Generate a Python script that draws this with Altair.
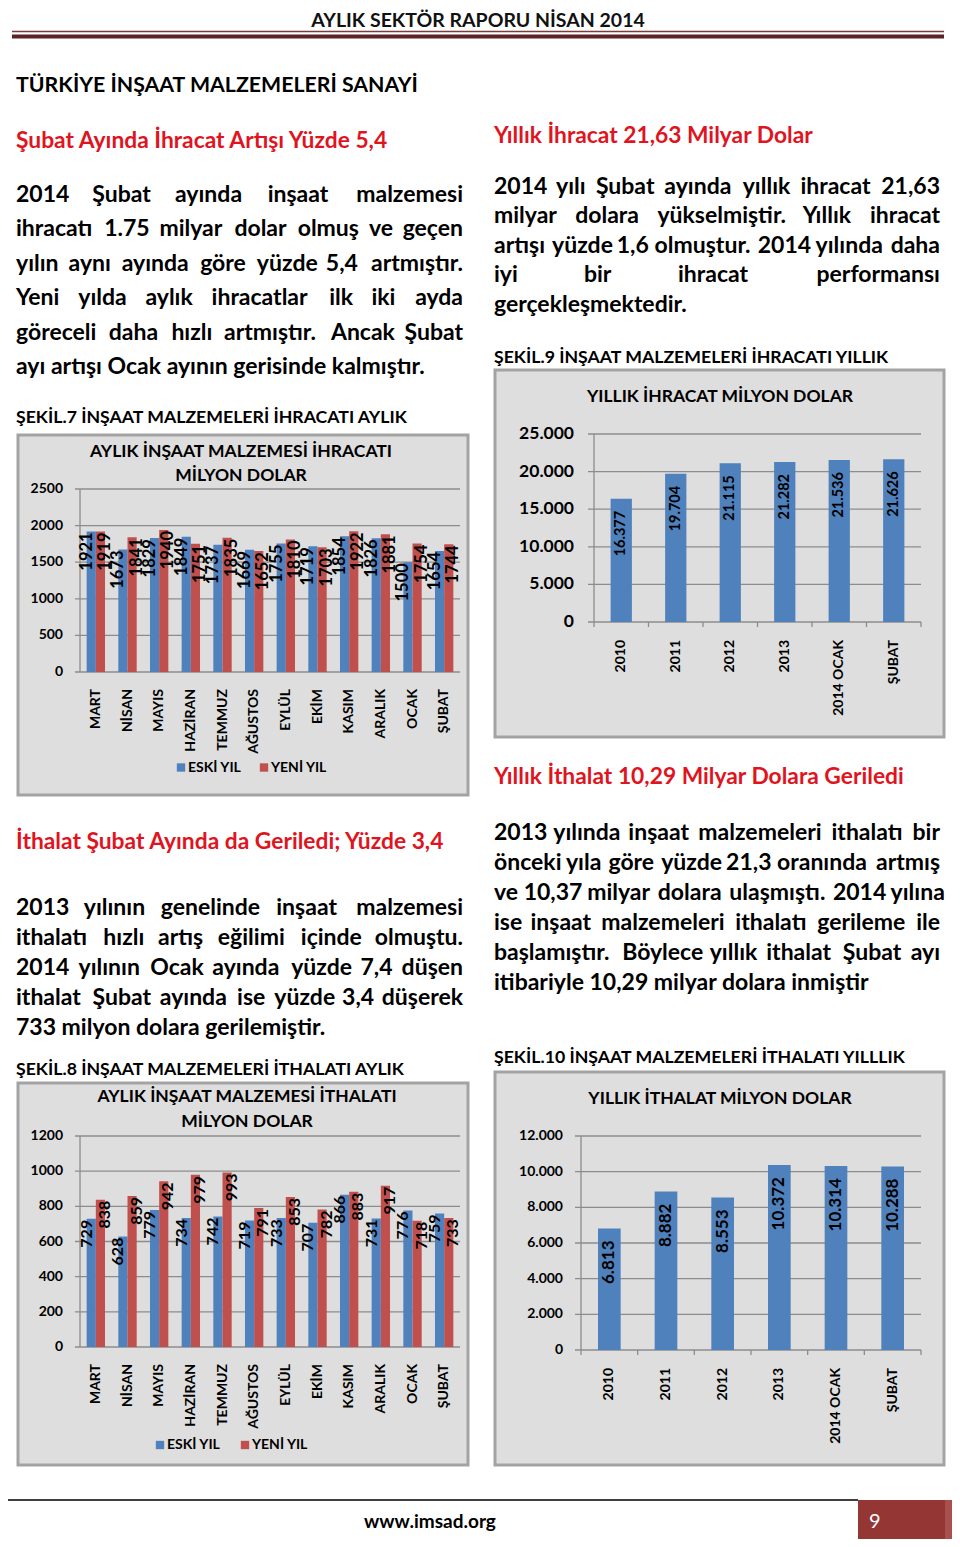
import altair as alt
import pandas as pd

# ---------------- data ----------------
months = ["MART", "NİSAN", "MAYIS", "HAZİRAN", "TEMMUZ", "AĞUSTOS", "EYLÜL",
          "EKİM", "KASIM", "ARALIK", "OCAK", "ŞUBAT"]
series = ["ESKİ YIL", "YENİ YIL"]
export_old = [1921, 1673, 1829, 1849, 1737, 1669, 1755, 1719, 1854, 1826, 1500, 1654]
export_new = [1919, 1841, 1940, 1751, 1835, 1652, 1810, 1703, 1922, 1881, 1754, 1744]
import_old = [729, 628, 779, 734, 742, 719, 733, 707, 866, 731, 776, 759]
import_new = [838, 859, 942, 979, 993, 791, 853, 782, 883, 917, 718, 733]

years = ["2010", "2011", "2012", "2013", "2014 OCAK", "ŞUBAT"]
export_yearly = [16377, 19704, 21115, 21282, 21536, 21626]
import_yearly = [6813, 8882, 8553, 10372, 10314, 10288]

ticks_exp_m = [0, 500, 1000, 1500, 2000, 2500]
ticks_imp_m = [0, 200, 400, 600, 800, 1000, 1200]
ticks_exp_y = [0, 5000, 10000, 15000, 20000, 25000]
ticks_imp_y = [0, 2000, 4000, 6000, 8000, 10000, 12000]

# ---------------- texts ----------------
header = "AYLIK SEKTÖR RAPORU NİSAN 2014"
section = "TÜRKİYE İNŞAAT MALZEMELERİ SANAYİ"
head1 = "Şubat Ayında İhracat Artışı Yüzde 5,4"
para1 = ["2014 Şubat ayında inşaat malzemesi",
         "ihracatı 1.75 milyar dolar olmuş ve geçen",
         "yılın aynı ayında göre yüzde 5,4 artmıştır.",
         "Yeni yılda aylık ihracatlar ilk iki ayda",
         "göreceli daha hızlı artmıştır. Ancak Şubat",
         "ayı artışı Ocak ayının gerisinde kalmıştır."]
fig7 = "ŞEKİL.7 İNŞAAT MALZEMELERİ İHRACATI AYLIK"
fig7_title = ["AYLIK İNŞAAT MALZEMESİ İHRACATI", "MİLYON DOLAR"]
head2 = "Yıllık İhracat 21,63 Milyar Dolar"
para2 = ["2014 yılı Şubat ayında yıllık ihracat 21,63",
         "milyar dolara yükselmiştir. Yıllık ihracat",
         "artışı yüzde 1,6 olmuştur. 2014 yılında daha",
         "iyi bir ihracat performansı",
         "gerçekleşmektedir."]
fig9 = "ŞEKİL.9 İNŞAAT MALZEMELERİ İHRACATI YILLIK"
fig9_title = "YILLIK İHRACAT MİLYON DOLAR"
head3 = "Yıllık İthalat 10,29 Milyar Dolara Geriledi"
head4 = "İthalat Şubat Ayında da Geriledi; Yüzde 3,4"
para4 = ["2013 yılının genelinde inşaat malzemesi",
         "ithalatı hızlı artış eğilimi içinde olmuştu.",
         "2014 yılının Ocak ayında yüzde 7,4 düşen",
         "ithalat Şubat ayında ise yüzde 3,4 düşerek",
         "733 milyon dolara gerilemiştir."]
fig8 = "ŞEKİL.8 İNŞAAT MALZEMELERİ İTHALATI AYLIK"
fig8_title = ["AYLIK  İNŞAAT MALZEMESİ İTHALATI", "MİLYON DOLAR"]
para3 = ["2013 yılında inşaat malzemeleri ithalatı bir",
         "önceki yıla göre yüzde 21,3 oranında artmış",
         "ve 10,37 milyar dolara ulaşmıştı. 2014 yılına",
         "ise inşaat malzemeleri ithalatı gerileme ile",
         "başlamıştır. Böylece yıllık ithalat Şubat ayı",
         "itibariyle 10,29 milyar dolara inmiştir"]
fig10 = "ŞEKİL.10 İNŞAAT MALZEMELERİ İTHALATI YILLLIK"
fig10_title = "YILLIK İTHALAT MİLYON DOLAR"
footer_url = "www.imsad.org"
page_no = "9"

# ---------------- style ----------------
FONT = "Lato"
BLUE = "#4F81BD"
RED = "#C0504D"
HEAD_RED = "#E0141E"
BOX_FILL = "#DEDEDE"
BOX_STROKE = "#A3A3A3"
GRID = "#8C8C8C"
BODY = 23


def px(x):
    return x - 8


def py(y):
    return y - 8


# rough glyph widths (em) used only to spread words of justified lines
CW = {c: 0.52 for c in "abdghnopquüöğ"}
CW.update({"c": 0.42, "ç": 0.42, "e": 0.5, "f": 0.32, "i": 0.25, "ı": 0.25, "j": 0.26,
           "k": 0.48, "l": 0.25, "m": 0.81, "r": 0.36, "s": 0.4, "ş": 0.4, "t": 0.35,
           "v": 0.47, "w": 0.74, "y": 0.46, "z": 0.4, ".": 0.25, ",": 0.24, ";": 0.28})
for d in "0123456789":
    CW[d] = 0.53
CW.update({"A": 0.61, "B": 0.56, "C": 0.53, "Ş": 0.47, "S": 0.47, "Y": 0.53, "İ": 0.27,
           "I": 0.27, "Ö": 0.68, "O": 0.68, "E": 0.49})
LATO_K = 1.06
MIN_GAP = 6.0


def est_w(s, size):
    return sum(CW.get(c, 0.5) for c in s) * size * LATO_K


def text_layer(rows, size, color="#000000", align="left", weight="bold", angle=0):
    df = pd.DataFrame(rows, columns=["t", "x", "y"])
    return alt.Chart(df).mark_text(
        font=FONT, fontSize=size, fontWeight=weight, color=color, align=align,
        baseline="middle", angle=angle
    ).encode(
        x=alt.X("x:Q", scale=None, axis=None),
        y=alt.Y("y:Q", scale=None, axis=None),
        text="t:N",
    )


def paragraph(lines, x0, x1, y0, dy, size):
    left, right = [], []
    for i, line in enumerate(lines):
        y = py(y0 + i * dy)
        words = line.split()
        if i == len(lines) - 1 or len(words) < 2:
            left.append((line, px(x0), y))
            continue
        widths = [est_w(w, size) for w in words]
        gap = (x1 - x0 - sum(widths)) / (len(words) - 1)
        anchor_right = gap >= MIN_GAP
        gap = max(gap, MIN_GAP)
        x = x0
        for j, (w, wd) in enumerate(zip(words, widths)):
            if j == len(words) - 1 and anchor_right:
                right.append((w, px(x1), y))
            else:
                left.append((w, px(x), y))
            x += wd + gap
    return [text_layer(left, size, align="left"), text_layer(right, size, align="right")]


one = pd.DataFrame({"k": [0]})


def rect(x0, y0, x1, y1, fill, stroke=None, sw=0):
    kw = dict(fill=fill)
    if stroke:
        kw.update(stroke=stroke, strokeWidth=sw)
    return alt.Chart(one).mark_rect(**kw).encode(
        x=alt.value(px(x0)), x2=alt.value(px(x1)), y=alt.value(py(y0)), y2=alt.value(py(y1)))


def hline(x0, x1, y, color, sw):
    return alt.Chart(one).mark_rule(color=color, strokeWidth=sw).encode(
        x=alt.value(px(x0)), x2=alt.value(px(x1)), y=alt.value(py(y)))


def vline(x, y0, y1, color, sw):
    return alt.Chart(one).mark_rule(color=color, strokeWidth=sw).encode(
        x=alt.value(px(x)), y=alt.value(py(y0)), y2=alt.value(py(y1)))


def dotted_label():
    return "replace(format(datum.v, ','), ',', '.')"


def monthly_chart(old, new, ticks, y_bottom, y_top, x0, x1, xlab_y, lab_size,
                  ylab_x, legend_y, legend_x):
    df = pd.DataFrame({"month": months + months,
                       "series": [series[0]] * 12 + [series[1]] * 12,
                       "value": old + new})
    xs = alt.Scale(domain=months, range=[px(x0), px(x1)], paddingInner=0.42, paddingOuter=0.21)
    ys = alt.Scale(domain=[ticks[0], ticks[-1]], range=[py(y_bottom), py(y_top)], nice=False)
    os_ = alt.Scale(domain=series, paddingInner=0, paddingOuter=0)
    cs = alt.Scale(domain=series, range=[BLUE, RED])
    enc = dict(x=alt.X("month:N", scale=xs, axis=None, sort=months),
               xOffset=alt.XOffset("series:N", scale=os_, sort=series),
               y=alt.Y("value:Q", scale=ys, axis=None))
    tdf = pd.DataFrame({"t": ticks})
    grid = alt.Chart(tdf).mark_rule(color=GRID, strokeWidth=1.3).encode(
        y=alt.Y("t:Q", scale=ys, axis=None), x=alt.value(px(x0 - 5)), x2=alt.value(px(x1)))
    ylabels = alt.Chart(tdf).mark_text(
        font=FONT, fontSize=14, fontWeight="bold", align="right", baseline="middle", color="#000"
    ).encode(y=alt.Y("t:Q", scale=ys, axis=None), x=alt.value(px(ylab_x)),
             text=alt.Text("t:Q", format="d"))
    axis = vline(x0, y_top, y_bottom, GRID, 1.3)
    bars = alt.Chart(df).mark_bar().encode(
        color=alt.Color("series:N", scale=cs, legend=None), **enc)
    labels = alt.Chart(df).mark_text(
        font=FONT, fontSize=lab_size, fontWeight="bold", angle=270, align="right",
        baseline="middle", color="#000", dx=-1
    ).encode(text=alt.Text("value:Q", format="d"), **enc)
    mdf = pd.DataFrame({"month": months})
    xlabels = alt.Chart(mdf).mark_text(
        font=FONT, fontSize=14, fontWeight="bold", angle=270, align="right",
        baseline="middle", color="#000"
    ).encode(x=alt.X("month:N", scale=xs, axis=None, sort=months),
             y=alt.value(py(xlab_y)), text="month:N")
    ldf = pd.DataFrame({"series": series})
    lx = alt.Scale(type="point", domain=series, range=[px(legend_x[0]), px(legend_x[1])],
                   padding=0)
    lsq = alt.Chart(ldf).mark_square(size=70, opacity=1).encode(
        x=alt.X("series:N", scale=lx, axis=None, sort=series), y=alt.value(py(legend_y)),
        color=alt.Color("series:N", scale=cs, legend=None))
    ltx = alt.Chart(ldf).mark_text(
        font=FONT, fontSize=14, fontWeight="bold", align="left", baseline="middle",
        color="#000", dx=7
    ).encode(x=alt.X("series:N", scale=lx, axis=None, sort=series), y=alt.value(py(legend_y)),
             text="series:N")
    return [grid, axis, bars, labels, ylabels, xlabels, lsq, ltx]


def yearly_chart(vals, ticks, y_bottom, y_top, x0, x1, pad, xlab_y, lab_size,
                 ylab_x, ylab_size):
    df = pd.DataFrame({"year": years, "v": vals})
    xs = alt.Scale(domain=years, range=[px(x0), px(x1)], paddingInner=pad, paddingOuter=pad / 2)
    xb = alt.Scale(domain=years, range=[px(x0), px(x1)], paddingInner=0, paddingOuter=0)
    ys = alt.Scale(domain=[ticks[0], ticks[-1]], range=[py(y_bottom), py(y_top)], nice=False)
    tdf = pd.DataFrame({"v": ticks})
    grid = alt.Chart(tdf).mark_rule(color=GRID, strokeWidth=1.3).encode(
        y=alt.Y("v:Q", scale=ys, axis=None), x=alt.value(px(x0 - 6)), x2=alt.value(px(x1)))
    ylabels = alt.Chart(tdf).transform_calculate(lab=dotted_label()).mark_text(
        font=FONT, fontSize=ylab_size, fontWeight="bold", align="right", baseline="middle",
        color="#000"
    ).encode(y=alt.Y("v:Q", scale=ys, axis=None), x=alt.value(px(ylab_x)), text="lab:N")
    axis = vline(x0, y_top, y_bottom, GRID, 1.3)
    xticks = alt.Chart(df).mark_rule(color=GRID, strokeWidth=1.3).encode(
        x=alt.X("year:N", scale=xb, axis=None, sort=years, bandPosition=0),
        y=alt.value(py(y_bottom)), y2=alt.value(py(y_bottom + 5)))
    last_tick = vline(x1, y_bottom, y_bottom + 5, GRID, 1.3)
    bars = alt.Chart(df).mark_bar(color=BLUE).encode(
        x=alt.X("year:N", scale=xs, axis=None, sort=years), y=alt.Y("v:Q", scale=ys, axis=None))
    labels = alt.Chart(df).transform_calculate(lab=dotted_label()).mark_text(
        font=FONT, fontSize=lab_size, fontWeight="bold", angle=270, align="right",
        baseline="middle", color="#000", dx=-12
    ).encode(x=alt.X("year:N", scale=xs, axis=None, sort=years),
             y=alt.Y("v:Q", scale=ys, axis=None), text="lab:N")
    xlabels = alt.Chart(df).mark_text(
        font=FONT, fontSize=14, fontWeight="bold", angle=270, align="right",
        baseline="middle", color="#000"
    ).encode(x=alt.X("year:N", scale=xs, axis=None, sort=years),
             y=alt.value(py(xlab_y)), text="year:N")
    return [grid, axis, xticks, last_tick, bars, labels, ylabels, xlabels]


layers = []
# page decoration
layers.append(rect(8, 8, 952, 1539, "#FFFFFF"))
layers.append(hline(12, 944, 31.5, "#7A3B3B", 1.5))
layers.append(hline(12, 944, 36.5, "#5B2424", 4))
layers.append(text_layer([(header, px(478), py(21))], 19.5, color="#111111", align="center"))
layers.append(hline(3, 858, 1500, "#000000", 1.5))
layers.append(rect(858, 1500, 952, 1543, "#943634"))
layers.append(rect(945, 1500, 952, 1543, "#A9504C"))
layers.append(text_layer([(footer_url, px(430), py(1522))], 19, align="center"))
layers.append(text_layer([(page_no, px(869), py(1522))], 20, color="#FFFFFF", weight="normal"))

# headings
layers.append(text_layer([(section, px(16), py(86))], 21.3))
layers.append(text_layer([(head1, px(16), py(141)), (head4, px(16), py(842)),
                          (head2, px(494), py(136)), (head3, px(494), py(777))],
                         22.8, color=HEAD_RED))
layers.append(text_layer([(fig7, px(16), py(418)), (fig8, px(16), py(1070)),
                          (fig9, px(494), py(358)), (fig10, px(494), py(1058))], 17.7))

# paragraphs
layers += paragraph(para1, 16, 463, 195, 34.4, BODY)
layers += paragraph(para2, 494, 940, 186.5, 29.6, BODY)
layers += paragraph(para4, 16, 463, 908, 30, BODY)
layers += paragraph(para3, 494, 940, 833, 30, BODY)

# chart boxes
layers.append(rect(18, 435, 468, 795, BOX_FILL, BOX_STROKE, 3))
layers.append(rect(495, 370, 944, 737, BOX_FILL, BOX_STROKE, 3))
layers.append(rect(18, 1083, 468, 1465, BOX_FILL, BOX_STROKE, 3))
layers.append(rect(495, 1072, 944, 1465, BOX_FILL, BOX_STROKE, 3))

# chart titles
layers.append(text_layer([(fig7_title[0], px(241), py(452)), (fig7_title[1], px(241), py(476)),
                          (fig8_title[0], px(247), py(1097)), (fig8_title[1], px(247), py(1122)),
                          (fig9_title, px(720), py(397)), (fig10_title, px(720), py(1099))],
                         17.5, align="center"))

# charts
layers += monthly_chart(export_old, export_new, ticks_exp_m, 672, 489, 80, 460, 689, 16.5,
                        63, 767.5, (181, 264))
layers += monthly_chart(import_old, import_new, ticks_imp_m, 1347, 1136, 80, 460, 1364, 16,
                        63, 1445, (160, 245))
layers += yearly_chart(export_yearly, ticks_exp_y, 622, 434, 594, 921, 0.61, 640, 14.5,
                       574, 17.5)
layers += yearly_chart(import_yearly, ticks_imp_y, 1350, 1136, 581, 921, 0.6, 1368, 17,
                       563, 14)

chart = alt.layer(*layers).resolve_scale(
    x="independent", y="independent", xOffset="independent", color="independent"
).properties(
    width=944, height=1531, padding=0, background="#FFFFFF",
    autosize=alt.AutoSizeParams(type="none"),
).configure_view(stroke=None)

chart.save("out.html", embed_options={"renderer": "svg", "actions": False})
